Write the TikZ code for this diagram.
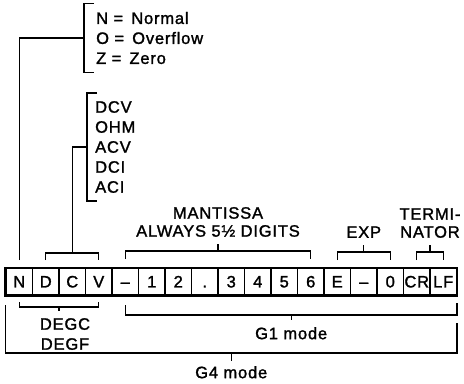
\documentclass[tikz,border=0pt]{standalone}
\usepackage{fontspec}
\setmainfont{Liberation Sans}[LetterSpace=5, FakeBold=1.5]

\begin{document}
\begin{tikzpicture}[x=1bp, y=-1bp,
	every node/.style={font=\fontsize{16.5bp}{20bp}\selectfont},
	cell/.style={draw, line width=1.2bp, minimum width=26.5bp, minimum height=27bp, inner sep=0pt, text height=11.8bp, text depth=0pt},
	brk/.style={line width=1.3bp},
	tag/.style={inner xsep=0pt, inner ysep=7bp}]
	
	\useasboundingbox (0,0) rectangle (464,383);
	
	% Cases du message
	\foreach \txt [count=\i from 0] in {N,D,C,V,\textendash,1,2,.,3,4,5,6,E,\textendash,0,CR,LF} {
		\node[cell] (b\i) at ({19.25+26.5*\i}, 281.5) {\txt};
	}
	\draw[line width=1.8bp] (b0.north west) rectangle (b16.south east);
	
	% Accolades au-dessus
	\draw[brk] (b1 |- 0,260) -- (b1 |- 0,253) -- coordinate (fnc) (b3 |- 0,253) -- (b3 |- 0,260);
	\draw[brk] (b4 |- 0,259) -- (b4 |- 0,251) -- coordinate (man) (b11 |- 0,251) -- (b11 |- 0,259);
	\draw[brk] (b12 |- 0,260) -- (b12 |- 0,252) -- coordinate (exp) (b14 |- 0,252) -- (b14 |- 0,260);
	\draw[brk] (b15 |- 0,260) -- (b15 |- 0,252) -- coordinate (trm) (b16 |- 0,252) -- (b16 |- 0,260);
	
	% Accolades au-dessous
	\draw[brk] (b0 |- 0,302) -- (b0 |- 0,307) -- coordinate (deg) (b3 |- 0,307) -- (b3 |- 0,302);
	\draw[brk] (b4 |- 0,305) -- (b4 |- 0,315) -- coordinate (gone) (b16.east |- 0,315) -- (b16.east |- 0,303);
	\draw[brk] (b0.west |- 0,305) -- (b0.west |- 0,353) -- coordinate (gfour) (b16.east |- 0,353) -- (b16.east |- 0,323);
	
	% Etiquettes du haut
	\node[tag, anchor=south, align=center, font=\fontsize{16.5bp}{18bp}\selectfont] (mantlbl) at (man |- 0,244) {MANTISSA\\ALWAYS 5½ DIGITS};
	\node[tag, anchor=south] (explbl) at (exp |- 0,245) {EXP};
	\node[tag, anchor=south, align=center, font=\fontsize{16.5bp}{18bp}\selectfont] (trmlbl) at (trm |- 0,245) {TERMI-\\NATOR};
	\draw[brk] (man) -- (mantlbl);
	\draw[brk] (exp) -- (explbl);
	\draw[brk] (trm) -- (trmlbl);
	
	% Etiquettes du bas
	\node[tag, anchor=north, align=center, xshift=6bp] (deglbl) at (deg |- 0,311) {DEGC\\DEGF};
	\node[tag, anchor=north] (g1lbl) at (gone |- 0,320) {G1 mode};
	\node[tag, anchor=north, inner ysep=5bp] (g4lbl) at (gfour |- 0,361) {G4 mode};
	\draw[brk] (deg) -- (deg |- deglbl.north);
	\draw[brk] (gone) -- (g1lbl);
	\draw[brk] (gfour) -- (g4lbl);
	
	% Etat et fonction
	\node[anchor=west, align=left, inner xsep=12bp, inner ysep=8bp] (stat) at (84,38) {N =\, Normal\\O =\, Overflow\\Z =\, Zero};
	\node[anchor=west, align=left, inner xsep=8bp, inner ysep=8bp] (func) at (87,147) {DCV\\OHM\\ACV\\DCI\\ACI};
	\draw[brk] ([xshift=10bp]stat.north west) -- (stat.north west) -- (stat.south west) -- ([xshift=10bp]stat.south west);
	\draw[brk] ([xshift=10bp]func.north west) -- (func.north west) -- (func.south west) -- ([xshift=10bp]func.south west);
	\draw[brk] (b0 |- 0,260) |- (stat.west);
	\draw[brk] (fnc) |- (func.west);
	
\end{tikzpicture}
\end{document}
